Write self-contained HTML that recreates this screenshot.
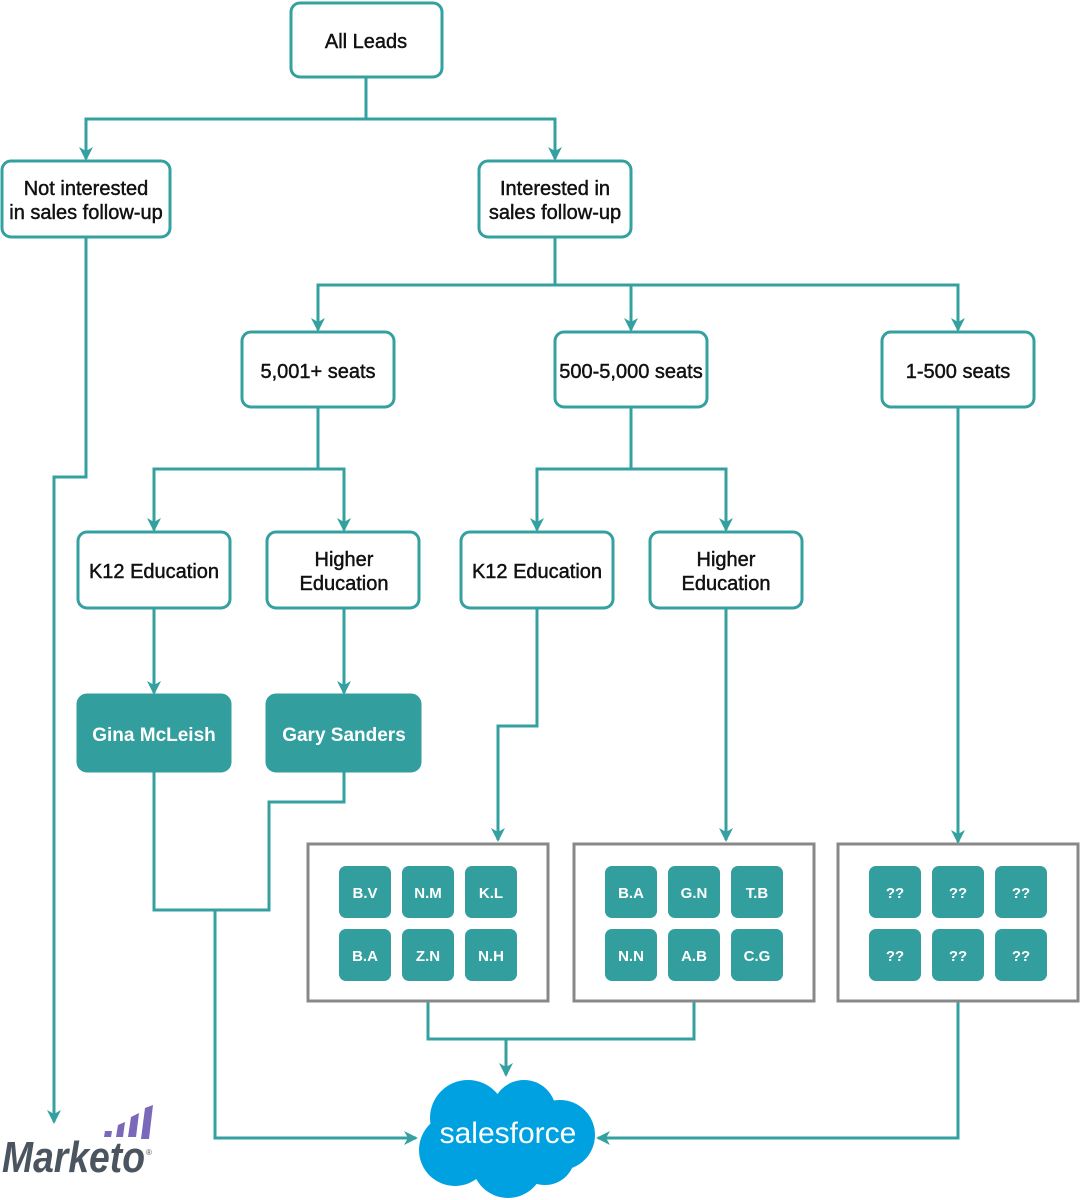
<!DOCTYPE html>
<html><head><meta charset="utf-8"><style>
html,body{margin:0;padding:0;background:#fff;}
svg{display:block;}
text{font-family:"Liberation Sans",sans-serif;}
</style></head><body>
<svg width="1080" height="1200" viewBox="0 0 1080 1200" xmlns="http://www.w3.org/2000/svg">
<defs>
<marker id="a" markerWidth="14" markerHeight="14" refX="12" refY="7" orient="auto" markerUnits="userSpaceOnUse">
<path d="M0,0 L14,7 L0,14 L4,7 Z" fill="#35a0a0"/>
</marker>
</defs>
<g fill="none" stroke="#35a0a0" stroke-width="3">
<path d="M366,77V119H86V159" marker-end="url(#a)"/>
<path d="M366,119H555V159" marker-end="url(#a)"/>
<path d="M86,237V477H54V1122" marker-end="url(#a)"/>
<path d="M555,237V285H318V330" marker-end="url(#a)"/>
<path d="M555,285H631V330" marker-end="url(#a)"/>
<path d="M631,285H958V330" marker-end="url(#a)"/>
<path d="M318,407V469H154V530" marker-end="url(#a)"/>
<path d="M318,469H344V530" marker-end="url(#a)"/>
<path d="M631,407V469H537V530" marker-end="url(#a)"/>
<path d="M631,469H726V530" marker-end="url(#a)"/>
<path d="M958,407V842" marker-end="url(#a)"/>
<path d="M154,608V693" marker-end="url(#a)"/>
<path d="M344,608V693" marker-end="url(#a)"/>
<path d="M537,608V726H498V840" marker-end="url(#a)"/>
<path d="M726,608V840" marker-end="url(#a)"/>
<path d="M154,771V910H269V802H344V771"/>
<path d="M215,910V1138H416" marker-end="url(#a)"/>
<path d="M428,1001V1039H694V1001"/>
<path d="M506,1039V1075" marker-end="url(#a)"/>
<path d="M958,1001V1138H598" marker-end="url(#a)"/>
</g>
<g fill="#fff" stroke="#35a0a0" stroke-width="3">
<rect x="291" y="3" width="151" height="74" rx="9"/>
<rect x="2" y="161" width="168" height="76" rx="9"/>
<rect x="479" y="161" width="152" height="76" rx="9"/>
<rect x="242" y="332" width="152" height="75" rx="9"/>
<rect x="555" y="332" width="152" height="75" rx="9"/>
<rect x="882" y="332" width="152" height="75" rx="9"/>
<rect x="78" y="532" width="152" height="76" rx="9"/>
<rect x="267" y="532" width="152" height="76" rx="9"/>
<rect x="461" y="532" width="152" height="76" rx="9"/>
<rect x="650" y="532" width="152" height="76" rx="9"/>
</g>
<g fill="#329e9e" stroke="#329e9e" stroke-width="3">
<rect x="78" y="695" width="152" height="76" rx="9"/>
<rect x="267" y="695" width="153" height="76" rx="9"/>
</g>
<g fill="#fff" stroke="#888" stroke-width="3">
<rect x="308" y="844" width="240" height="157"/>
<rect x="574" y="844" width="240" height="157"/>
<rect x="838" y="844" width="240" height="157"/>
</g>
<g fill="#329e9e">
<rect x="339" y="866" width="52" height="52" rx="7"/><rect x="402" y="866" width="52" height="52" rx="7"/><rect x="465" y="866" width="52" height="52" rx="7"/>
<rect x="339" y="929" width="52" height="52" rx="7"/><rect x="402" y="929" width="52" height="52" rx="7"/><rect x="465" y="929" width="52" height="52" rx="7"/>
<rect x="605" y="866" width="52" height="52" rx="7"/><rect x="668" y="866" width="52" height="52" rx="7"/><rect x="731" y="866" width="52" height="52" rx="7"/>
<rect x="605" y="929" width="52" height="52" rx="7"/><rect x="668" y="929" width="52" height="52" rx="7"/><rect x="731" y="929" width="52" height="52" rx="7"/>
<rect x="869" y="866" width="52" height="52" rx="7"/><rect x="932" y="866" width="52" height="52" rx="7"/><rect x="995" y="866" width="52" height="52" rx="7"/>
<rect x="869" y="929" width="52" height="52" rx="7"/><rect x="932" y="929" width="52" height="52" rx="7"/><rect x="995" y="929" width="52" height="52" rx="7"/>
</g>
<g font-size="20" fill="#111" stroke="#111" stroke-width="0.45" text-anchor="middle">
<text x="366" y="48">All Leads</text>
<text x="86" y="195">Not interested</text><text x="86" y="219">in sales follow-up</text>
<text x="555" y="195">Interested in</text><text x="555" y="219">sales follow-up</text>
<text x="318" y="378">5,001+ seats</text>
<text x="631" y="378">500-5,000 seats</text>
<text x="958" y="378">1-500 seats</text>
<text x="154" y="578">K12 Education</text>
<text x="344" y="566">Higher</text><text x="344" y="590">Education</text>
<text x="537" y="578">K12 Education</text>
<text x="726" y="566">Higher</text><text x="726" y="590">Education</text>
</g>
<g font-size="19" fill="#fff" text-anchor="middle" font-weight="bold">
<text x="154" y="741">Gina McLeish</text>
<text x="344" y="741">Gary Sanders</text>
</g>
<g font-size="15" fill="#fff" text-anchor="middle" font-weight="bold">
<text x="365" y="898">B.V</text><text x="428" y="898">N.M</text><text x="491" y="898">K.L</text>
<text x="365" y="961">B.A</text><text x="428" y="961">Z.N</text><text x="491" y="961">N.H</text>
<text x="631" y="898">B.A</text><text x="694" y="898">G.N</text><text x="757" y="898">T.B</text>
<text x="631" y="961">N.N</text><text x="694" y="961">A.B</text><text x="757" y="961">C.G</text>
<text x="895" y="898">??</text><text x="958" y="898">??</text><text x="1021" y="898">??</text>
<text x="895" y="961">??</text><text x="958" y="961">??</text><text x="1021" y="961">??</text>
</g>
<g fill="#00a1e0">
<circle cx="468" cy="1118" r="38"/>
<circle cx="524" cy="1112" r="32"/>
<circle cx="560" cy="1135" r="35"/>
<circle cx="455" cy="1150" r="36"/>
<circle cx="508" cy="1162" r="36"/>
<circle cx="545" cy="1155" r="30"/>
</g>
<text x="508" y="1143" font-size="30" fill="#fff" text-anchor="middle">salesforce</text>
<g fill="#7b68b8">
<polygon points="105,1131 112,1131 111,1137 104,1137"/>
<polygon points="118,1125 125,1122 123,1137 116,1137"/>
<polygon points="131,1117 139,1113 136,1137 128,1137"/>
<polygon points="145,1108 153,1105 149,1139 141,1139"/>
</g>
<text x="2" y="1172" font-size="44" font-weight="bold" font-style="italic" fill="#4a5560" textLength="143" lengthAdjust="spacingAndGlyphs">Marketo</text>
<text x="146" y="1155" font-size="8" fill="#4a5560">®</text>
</svg>
</body></html>
